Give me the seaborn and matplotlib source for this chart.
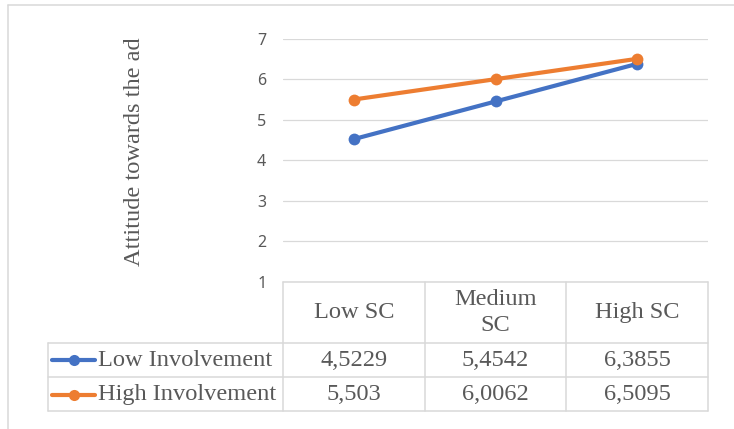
import matplotlib
matplotlib.use("Agg")
import matplotlib.pyplot as plt
from matplotlib.lines import Line2D
import seaborn as sns
import pandas as pd

# data
categories = ["Low SC", "Medium SC", "High SC"]
header_labels = ["Low SC", "Medium\nSC", "High SC"]
series_names = ["Low Involvement", "High Involvement"]
low_involvement = [4.5229, 5.4542, 6.3855]
high_involvement = [5.503, 6.0062, 6.5095]
y_ticks = [1, 2, 3, 4, 5, 6, 7]

colors = {"Low Involvement": "#4472C4", "High Involvement": "#ED7D31"}
grey_text = "#595959"
grid_col = "#D9D9D9"

sns.set_style("white")
plt.rcParams["font.family"] = ["Liberation Serif", "DejaVu Serif"]

W, H = 734, 429
fig = plt.figure(figsize=(W / 100, H / 100), dpi=100)


def fx(x):
    return x / W


def fy(y):
    return 1 - y / H


ax = fig.add_axes([fx(283), fy(281.5), fx(708) - fx(283), fy(39) - fy(281.5)])

df = pd.DataFrame({"Category": categories,
                   "Low Involvement": low_involvement,
                   "High Involvement": high_involvement})
df_melt = df.melt(id_vars="Category", var_name="Series", value_name="Value")

sns.lineplot(data=df_melt, x="Category", y="Value", hue="Series",
             palette=colors, marker="o", markersize=8.5, markeredgewidth=0,
             linewidth=3, legend=False, ax=ax, sort=False)

ax.set_xlim(-0.5, len(categories) - 0.5)
ax.set_ylim(min(y_ticks), max(y_ticks))
ax.set_yticks(y_ticks)
ax.set_yticklabels([str(t) for t in y_ticks], fontfamily="Noto Sans",
                   fontsize=11.5, color=grey_text)
ax.tick_params(axis="y", length=0, pad=12)
ax.set_xticks([])
ax.set_xlabel("")
ax.set_ylabel("")
ax.yaxis.grid(True, color=grid_col, linewidth=0.9)
ax.set_axisbelow(True)
for s in ax.spines.values():
    s.set_visible(False)

fig.text(fx(134), fy(152), "Attitude towards the ad", rotation=90,
         ha="center", va="center", fontsize=17.6, color=grey_text)


def hline(y, x0, x1, col=grid_col, lw=1.1):
    fig.add_artist(Line2D([fx(x0), fx(x1)], [fy(y), fy(y)],
                          transform=fig.transFigure, color=col, linewidth=lw))


def vline(x, y0, y1, col=grid_col, lw=1.1):
    fig.add_artist(Line2D([fx(x), fx(x)], [fy(y0), fy(y1)],
                          transform=fig.transFigure, color=col, linewidth=lw))


# outer chart frame (only left and top visible)
vline(8, 5, 429)
hline(5, 8, 734)

# data table
col_edges = [283, 424.5, 566, 708]
row_edges = [282, 343, 377, 411]
hline(row_edges[0], col_edges[0], col_edges[-1])
for y in row_edges[1:]:
    hline(y, 48, col_edges[-1])
for x in col_edges:
    vline(x, row_edges[0], row_edges[-1])
vline(48, row_edges[1], row_edges[-1])

col_centers = [(a + b) / 2 for a, b in zip(col_edges[:-1], col_edges[1:])]
for cx, lab in zip(col_centers, header_labels):
    fig.text(fx(cx), fy(312.5), lab, ha="center", va="center", fontsize=17.6,
             color=grey_text, linespacing=1.35)

row_y = [360, 394.5]
for ry, name, vals in zip(row_y, series_names, [low_involvement, high_involvement]):
    fig.add_artist(Line2D([fx(52), fx(95)], [fy(ry), fy(ry)],
                          transform=fig.transFigure, color=colors[name],
                          linewidth=3))
    fig.add_artist(Line2D([fx(73.5)], [fy(ry)], transform=fig.transFigure,
                          color=colors[name], marker="o", markersize=8,
                          markeredgewidth=0))
    fig.text(fx(98), fy(ry), name, ha="left", va="center", fontsize=17.6,
             color=grey_text)
    for cx, v in zip(col_centers, vals):
        fig.text(fx(cx), fy(ry), str(v).replace(".", ","), ha="center",
                 va="center", fontsize=17.6, color=grey_text)

fig.savefig("out.png", dpi=100, facecolor="white")
